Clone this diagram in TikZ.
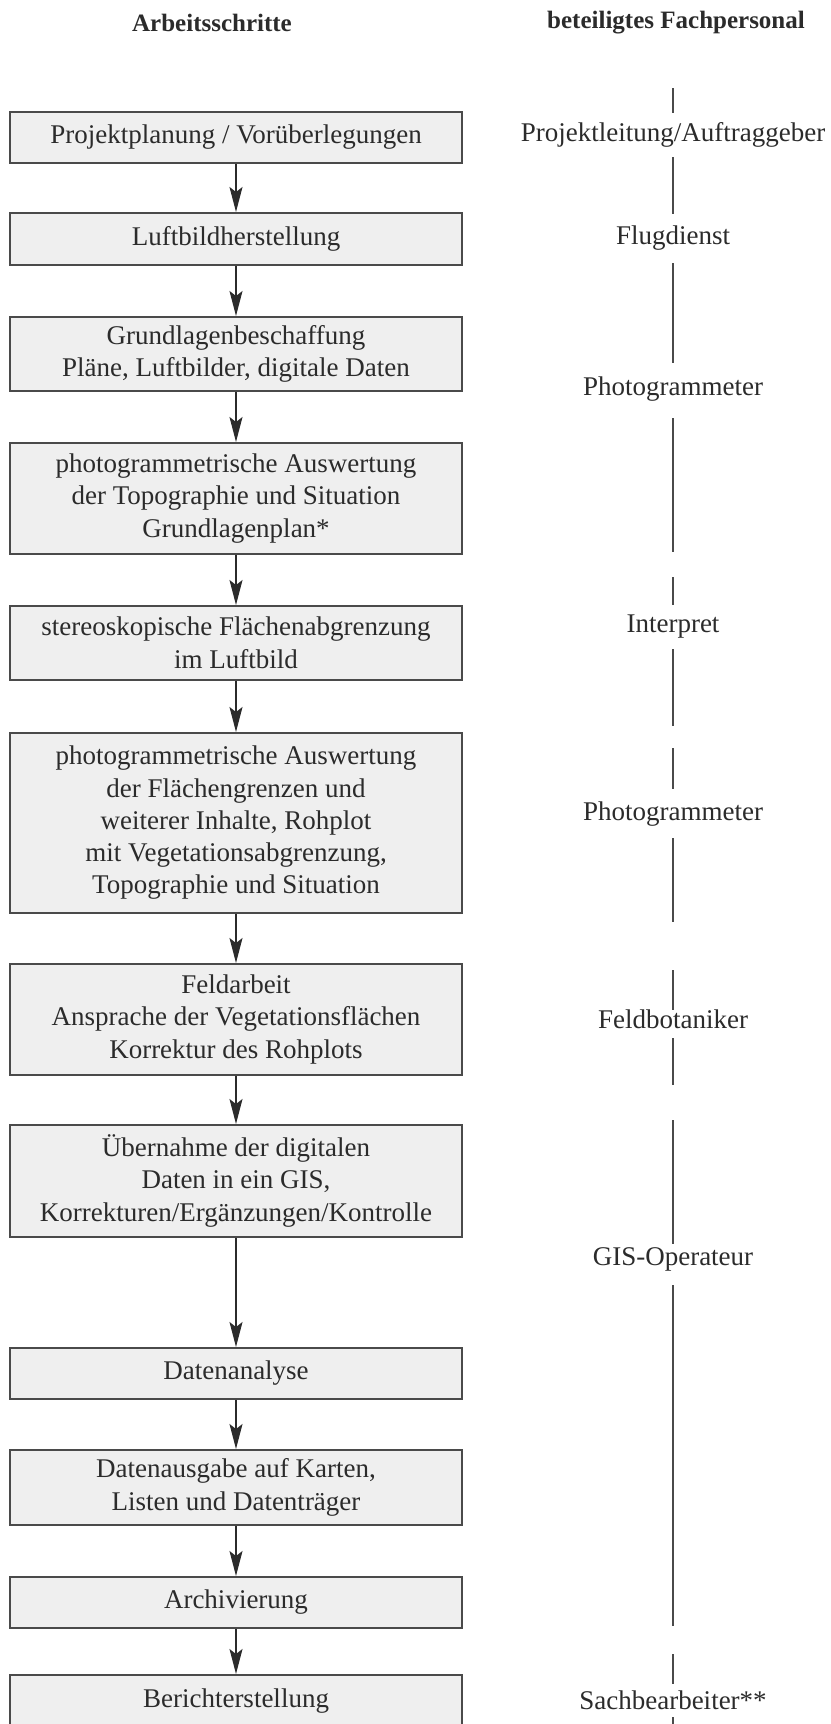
\documentclass[tikz,border=0pt]{standalone}
\usepackage{fontspec}
\setmainfont{Liberation Serif}
\usetikzlibrary{arrows.meta}
\definecolor{boxfill}{HTML}{EFEFEF}
\definecolor{ink}{HTML}{2B2B2B}
\definecolor{rulecol}{HTML}{4A4A4A}
\begin{document}
\begin{tikzpicture}[x=1pt,y=-1pt,
  stepbox/.style={draw=rulecol, line width=1.8pt, fill=boxfill, minimum width=452pt,
    inner sep=0pt, anchor=north, align=center, text=ink,
    font=\fontsize{27}{32.3}\selectfont},
  flow/.style={draw=ink, line width=1.4pt, -{Stealth[length=25pt,width=13pt,inset=5pt]}},
  person/.style={font=\fontsize{27}{32}\selectfont, text=ink},
  head/.style={font=\fontsize{25}{30}\selectfont\bfseries, text=ink},
  track/.style={draw=rulecol, line width=1.5pt}]
\useasboundingbox (0,0) rectangle (830,1724);
\clip (0,0) rectangle (830,1724);

% headers
\node[head] (h1) at (212,23) {Arbeitsschritte};
\node[head] (h2) at (676,23) {beteiligtes Fachpersonal};

% steps
\node[stepbox, minimum height=51pt] (s1) at (236,111) {Projektplanung / Vorüberlegungen};
\node[stepbox, minimum height=52pt] (s2) at (236,212) {Luftbildherstellung};
\node[stepbox, minimum height=74pt] (s3) at (236,316) {Grundlagenbeschaffung\\Pläne, Luftbilder, digitale Daten};
\node[stepbox, minimum height=111pt] (s4) at (236,442) {photogrammetrische Auswertung\\der Topographie und Situation\\Grundlagenplan*};
\node[stepbox, minimum height=74pt] (s5) at (236,605) {stereoskopische Flächenabgrenzung\\im Luftbild};
\node[stepbox, minimum height=180pt] (s6) at (236,732) {photogrammetrische Auswertung\\der Flächengrenzen und\\weiterer Inhalte, Rohplot\\mit Vegetationsabgrenzung,\\Topographie und Situation};
\node[stepbox, minimum height=111pt] (s7) at (236,963) {Feldarbeit\\Ansprache der Vegetationsflächen\\Korrektur des Rohplots};
\node[stepbox, minimum height=112pt] (s8) at (236,1124) {Übernahme der digitalen\\Daten in ein GIS,\\Korrekturen/Ergänzungen/Kontrolle};
\node[stepbox, minimum height=51pt] (s9) at (236,1347) {Datenanalyse};
\node[stepbox, minimum height=75pt] (s10) at (236,1449) {Datenausgabe auf Karten,\\Listen und Datenträger};
\node[stepbox, minimum height=51pt] (s11) at (236,1576) {Archivierung};
\node[stepbox, minimum height=52pt] (s12) at (236,1674) {Berichterstellung};

% arrows
\foreach \a/\b in {s1/s2,s2/s3,s3/s4,s4/s5,s5/s6,s6/s7,s7/s8,s8/s9,s9/s10,s10/s11,s11/s12}
  \draw[flow] (\a.south) -- (\b.north);

% personnel
\node[person] (p1) at (673,135) {Projektleitung/Auftraggeber};
\node[person] (p2) at (673,238) {Flugdienst};
\node[person] (p3) at (673,389) {Photogrammeter};
\node[person] (p4) at (673,627) {Interpret};
\node[person] (p5) at (673,814) {Photogrammeter};
\node[person] (p6) at (673,1019) {Feldbotaniker};
\node[person] (p7) at (673,1259) {GIS-Operateur};
\node[person] (p8) at (673,1700) {Sachbearbeiter**};

% track lines
\foreach \a/\b in {88/113,157/214,263/363,418/552,577/605,649/726,748/789,838/922,970/1010,1038/1085,1120/1244,1285/1626,1654/1684,1717/1730}
  \draw[track] (673,\a) -- (673,\b);
\end{tikzpicture}
\end{document}
